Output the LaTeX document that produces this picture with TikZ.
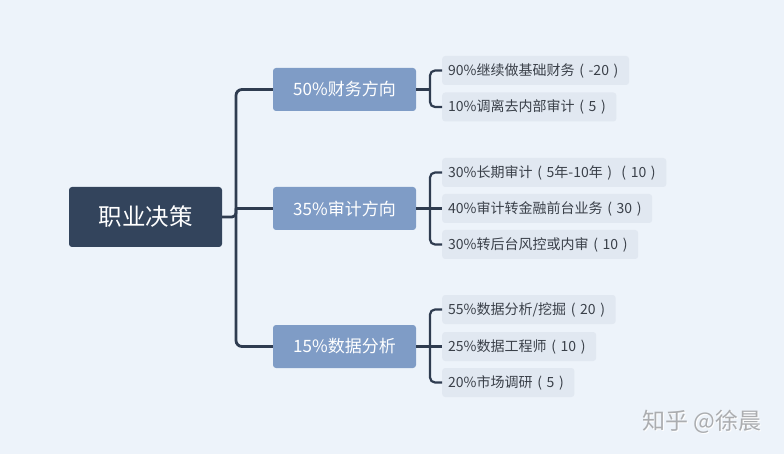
\documentclass[tikz,border=0pt]{standalone}
\usepackage{fontspec}
\setmainfont{Noto Sans CJK SC}
\definecolor{bgc}{HTML}{EDF3FA}
\definecolor{rootc}{HTML}{33445C}
\definecolor{lvlc}{HTML}{7F9CC6}
\definecolor{linec}{HTML}{2F3C50}
\definecolor{leafc}{HTML}{E1E8F1}
\definecolor{leaft}{HTML}{3A4049}
\definecolor{wmc}{HTML}{ABADB0}
\newcommand{\lpar}{\makebox[1em]{(}}
\newcommand{\rpar}{\makebox[1em]{)}}
\begin{document}
\begin{tikzpicture}[x=1pt,y=-1pt,
  rootbox/.style={fill=rootc,text=white,rounded corners=3pt,minimum width=153pt,minimum height=60pt,inner sep=0pt,font=\fontsize{23.5}{26}\selectfont},
  lvlbox/.style={fill=lvlc,text=white,rounded corners=3pt,minimum width=143pt,minimum height=43pt,inner sep=0pt,font=\fontsize{17}{20}\selectfont},
  leafbox/.style={fill=leafc,text=leaft,rounded corners=3pt,minimum height=29pt,inner xsep=6pt,inner ysep=0pt,anchor=west,font=\fontsize{14}{16}\selectfont},
  trunk/.style={draw=linec,line width=2.8pt,rounded corners=6pt},
  brk/.style={draw=linec,line width=2.2pt,rounded corners=5pt},
  wm/.style={text=wmc,font=\fontsize{23}{25}\selectfont,inner sep=0pt},
  wmsh/.style={text=white,font=\fontsize{23}{25}\selectfont,inner sep=0pt}]
\fill[bgc] (0,0) rectangle (784,454);
\useasboundingbox (0,0) rectangle (784,454);

\node[rootbox] (r) at (145.5,217) {职业决策};
\node[lvlbox] (a) at (344.5,89.5) {50\%财务方向};
\node[lvlbox] (b) at (344.5,208.5) {35\%审计方向};
\node[lvlbox] (c) at (344.5,346.5) {15\%数据分析};

\coordinate (j) at (236,208.5);
\draw[trunk] (a.west) -| (j) |- (c.west);
\draw[trunk,rounded corners=4pt] (r.east) -| (j);
\draw[trunk] (j) -- (b.west);

\node[leafbox] (a1) at (442,70.5) {90\%继续做基础财务\lpar-20\rpar};
\node[leafbox] (a2) at (442,107) {10\%调离去内部审计\lpar5\rpar};
\node[leafbox] (b1) at (442,172.5) {30\%长期审计\lpar5年-10年\rpar\lpar10\rpar};
\node[leafbox] (b2) at (442,208.5) {40\%审计转金融前台业务\lpar30\rpar};
\node[leafbox] (b3) at (442,244.5) {30\%转后台风控或内审\lpar10\rpar};
\node[leafbox] (c1) at (442,309.5) {55\%数据分析/挖掘\lpar20\rpar};
\node[leafbox] (c2) at (442,346.5) {25\%数据工程师\lpar10\rpar};
\node[leafbox] (c3) at (442,382.5) {20\%市场调研\lpar5\rpar};

\coordinate (ja) at (430,89.5);
\coordinate (jb) at (430,208.5);
\coordinate (jc) at (430,346.5);
\draw[brk] (a.east) -- (ja);
\draw[brk] (a1.west) -| (ja) |- (a2.west);
\draw[brk] (b.east) -- (b2.west);
\draw[brk] (b1.west) -| (jb) |- (b3.west);
\draw[brk] (c.east) -- (c2.west);
\draw[brk] (c1.west) -| (jc) |- (c3.west);

\node[wmsh] (ws) at (703.2,423.2) {知乎 @徐晨};
\node[wm] (w) at (702,422) {知乎 @徐晨};
\end{tikzpicture}
\end{document}
